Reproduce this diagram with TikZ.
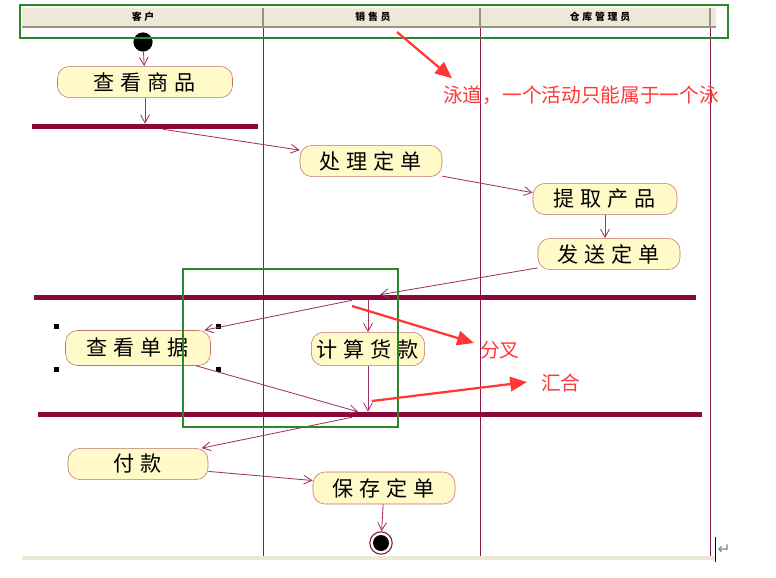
\documentclass[tikz,border=0pt]{standalone}
\usepackage{fontspec}
\newfontfamily\cjk{Noto Sans CJK SC}[LetterSpace=28]
\newfontfamily\cjkplain{Noto Sans CJK SC}
\newfontfamily\symfont{DejaVu Sans}
\usetikzlibrary{arrows.meta}

\definecolor{actfill}{RGB}{255,250,200}
\definecolor{actborder}{RGB}{190,115,110}
\definecolor{barred}{RGB}{139,8,58}
\definecolor{flowpink}{RGB}{160,50,105}
\definecolor{laneline}{RGB}{135,25,75}
\definecolor{headfill}{RGB}{236,233,216}
\definecolor{headshade}{RGB}{150,148,130}
\definecolor{boxgreen}{RGB}{45,135,45}
\definecolor{notered}{RGB}{255,55,55}

\begin{document}
\begin{tikzpicture}[x=0.025cm, y=-0.025cm,
  activity/.style={draw=actborder, fill=actfill, rounded corners=0.3cm,
    minimum height=0.78cm, inner sep=0pt, font=\cjk\fontsize{15}{17}\selectfont},
  syncbar/.style={fill=barred, minimum height=0.125cm, inner sep=0pt},
  flow/.style={draw=flowpink, line width=0.6pt, -{Straight Barb[length=0.2cm,width=0.22cm]}},
  note/.style={draw=notered, line width=1.6pt, -{Triangle[length=0.42cm,width=0.36cm]}},
  notetext/.style={text=notered, font=\cjkplain\fontsize{14}{16}\selectfont, inner sep=0pt},
  lanehead/.style={font=\cjk\bfseries\fontsize{7}{8}\selectfont, inner sep=0pt},
  highlight/.style={draw=boxgreen, line width=1.8pt},
  lane/.style={draw=laneline, line width=0.7pt}]

  \useasboundingbox (0,0) rectangle (776,578);

  % Swimlane header and lanes
  \fill[headfill] (22,8) rectangle (716,28);
  \draw[headshade, line width=1.5pt] (22,27) -- (716,27);
  \foreach \lx in {263,480,710}
    \draw[headshade, line width=1pt] (\lx,8) -- (\lx,28);
  \foreach \lx in {263,480,710}
    \draw[lane] (\lx,28) -- (\lx,557);
  \fill[headfill] (22,556) rectangle (716,560);
  \node[lanehead] (kehu) at (143,17) {客户};
  \node[lanehead] (xiaoshou) at (373,17) {销售员};
  \node[lanehead] (cangku) at (600,17) {仓库管理员};

  % Start and end
  \node[circle, fill=black, minimum size=0.48cm, inner sep=0pt] (start) at (143,42) {};
  \node[circle, draw=laneline, line width=0.8pt, fill=white, minimum size=0.56cm, inner sep=0pt] (finish) at (381,543) {};
  \node[circle, fill=black, minimum size=0.4cm, inner sep=0pt] at (finish) {};

  % Activities
  \node[activity, minimum width=4.375cm] (viewgoods) at (145,82) {查看商品};
  \node[activity, minimum width=3.55cm] (handleorder) at (371,161) {处理定单};
  \node[activity, minimum width=3.6cm] (pickgoods) at (605,199) {提取产品};
  \node[activity, minimum width=3.55cm] (sendorder) at (609,254) {发送定单};
  \node[activity, minimum width=3.625cm, minimum height=0.875cm] (viewbill) at (138,348) {查看单据};
  \node[activity, minimum width=2.83cm, minimum height=0.83cm] (calcpay) at (368,349) {计算货款};
  \node[activity, minimum width=3.5cm] (pay) at (138,464) {付款};
  \node[activity, minimum width=3.55cm, minimum height=0.8cm] (saveorder) at (384,488) {保存定单};

  % Fork / join bars
  \node[syncbar, minimum width=5.65cm] (bar1) at (145,126.5) {};
  \node[syncbar, minimum width=16.55cm] (bar2) at (365,297.5) {};
  \node[syncbar, minimum width=16.6cm] (bar3) at (370,414.5) {};

  % Selection handles
  \foreach \hx in {56,218}
    \foreach \hy in {326,369}
      \fill (\hx-2.5,\hy-2.5) rectangle (\hx+2.5,\hy+2.5);

  % Control flow
  \draw[flow] (start) -- (viewgoods);
  \draw[flow] (viewgoods) -- (viewgoods |- bar1.north);
  \draw[flow] ([xshift=0.45cm]bar1.south) -- (handleorder);
  \draw[flow] (handleorder.-12) -- (pickgoods.175);
  \draw[flow] (pickgoods.south) -- (pickgoods.south |- sendorder.north);
  \draw[flow] (sendorder.191) -- ([xshift=0.375cm]bar2.north);
  \draw[flow] ([xshift=-0.325cm]bar2.south) -- (viewbill.15);
  \draw[flow] (bar2.south -| calcpay) -- (calcpay);
  \draw[flow] (viewbill.-17) -- ([xshift=-0.3cm]bar3.north);
  \draw[flow] (calcpay) -- (calcpay |- bar3.north);
  \draw[flow] ([xshift=-0.45cm]bar3.south) -- (pay.14);
  \draw[flow] (pay.-6) -- (saveorder.174);
  \draw[flow] (saveorder) -- (finish);

  % Highlight boxes
  \draw[highlight] (20,5) rectangle (728,38);
  \draw[highlight] (183,269) rectangle (398,427);

  % Annotations
  \node[notetext, anchor=west] (lanenote) at (443,95) {泳道，一个活动只能属于一个泳};
  \node[notetext, anchor=west] (forknote) at (480,350) {分叉};
  \node[notetext, anchor=west] (joinnote) at (541,383) {汇合};
  \coordinate (lanetail) at (397,32);
  \coordinate (forktail) at (352,306);
  \coordinate (jointail) at (372,401);
  \draw[note] (lanetail) -- ([shift={(9,-7)}]lanenote.north west);
  \draw[note] (forktail) -- ([shift={(-6,-7)}]forknote.west);
  \draw[note] (jointail) -- ([shift={(-14,-1)}]joinnote.west);

  % Text cursor
  \draw[black, line width=0.6pt] (715,537) -- (715,562);
  \node[text=gray, font=\symfont\fontsize{11}{12}\selectfont, inner sep=0pt] (retmark) at (724,550) {↵};
\end{tikzpicture}
\end{document}
